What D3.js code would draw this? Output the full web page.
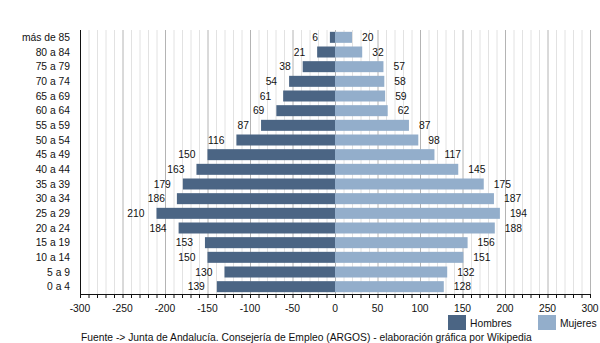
<!DOCTYPE html>
<html>
<head>
<meta charset="utf-8">
<script src="https://cdn.jsdelivr.net/npm/d3@7"></script>
<style>
  html, body { margin: 0; padding: 0; background: #fff; }
  svg { display: block; font-family: "Liberation Sans", Arial, sans-serif; }
</style>
</head>
<body>
<svg id="chart" width="600" height="343"></svg>
<script>
// Age groups, oldest first (top of the pyramid)
const ageGroups = ["más de 85", "80 a 84", "75 a 79", "70 a 74", "65 a 69", "60 a 64",
  "55 a 59", "50 a 54", "45 a 49", "40 a 44", "35 a 39", "30 a 34", "25 a 29",
  "20 a 24", "15 a 19", "10 a 14", "5 a 9", "0 a 4"];
const hombres = [6, 21, 38, 54, 61, 69, 87, 116, 150, 163, 179, 186, 210, 184, 153, 150, 130, 139];
const mujeres = [20, 32, 57, 58, 59, 62, 87, 98, 117, 145, 175, 187, 194, 188, 156, 151, 132, 128];
const xTicks = [-300, -250, -200, -150, -100, -50, 0, 50, 100, 150, 200, 250, 300];
const seriesNames = ["Hombres", "Mujeres"];
const sourceText = "Fuente -> Junta de Andalucía. Consejería de Empleo (ARGOS) - elaboración gráfica por Wikipedia";

const colorMen = "#4b6584";
const colorWomen = "#93aecb";
const fontSize = 10.3;

const svg = d3.select("#chart");
const plotL = 80, plotR = 590, plotT = 30, plotB = 294;

const x = d3.scaleLinear().domain([-300, 300]).range([plotL, plotR]);
const y = d3.scaleBand().domain(ageGroups).range([plotT, plotB]).paddingInner(0.25).paddingOuter(0.125);

// grid: minor every 10, major every 50
const minor = d3.range(-300, 301, 10);
svg.append("g").selectAll("line").data(minor.filter(v => v % 50 !== 0)).join("line")
  .attr("x1", d => x(d) + 0.5).attr("x2", d => x(d) + 0.5)
  .attr("y1", plotT).attr("y2", plotB)
  .attr("stroke", "#e2e2e2").attr("stroke-width", 1);
svg.append("g").selectAll("line").data(xTicks.filter(v => v !== -300)).join("line")
  .attr("x1", d => x(d) + 0.5).attr("x2", d => x(d) + 0.5)
  .attr("y1", plotT).attr("y2", plotB)
  .attr("stroke", "#b4b4b4").attr("stroke-width", 1);

// bars
svg.append("g").selectAll("rect").data(ageGroups).join("rect")
  .attr("x", (d, i) => x(-hombres[i]))
  .attr("width", (d, i) => x(0) - x(-hombres[i]))
  .attr("y", d => y(d)).attr("height", y.bandwidth())
  .attr("fill", colorMen);
svg.append("g").selectAll("rect").data(ageGroups).join("rect")
  .attr("x", x(0))
  .attr("width", (d, i) => x(mujeres[i]) - x(0))
  .attr("y", d => y(d)).attr("height", y.bandwidth())
  .attr("fill", colorWomen);

// value labels
svg.append("g").selectAll("text").data(ageGroups).join("text")
  .attr("x", (d, i) => x(-hombres[i]) - 12)
  .attr("y", d => y(d) + y.bandwidth() / 2)
  .attr("dy", "0.35em").attr("text-anchor", "end")
  .attr("font-size", fontSize).attr("fill", "#111")
  .text((d, i) => hombres[i]);
svg.append("g").selectAll("text").data(ageGroups).join("text")
  .attr("x", (d, i) => x(mujeres[i]) + 10)
  .attr("y", d => y(d) + y.bandwidth() / 2)
  .attr("dy", "0.35em").attr("text-anchor", "start")
  .attr("font-size", fontSize).attr("fill", "#111")
  .text((d, i) => mujeres[i]);

// category labels
svg.append("g").selectAll("text").data(ageGroups).join("text")
  .attr("x", plotL - 10)
  .attr("y", d => y(d) + y.bandwidth() / 2)
  .attr("dy", "0.35em").attr("text-anchor", "end")
  .attr("font-size", fontSize).attr("fill", "#111")
  .text(d => d);

// x axis with minor ticks
const axis = svg.append("g").attr("transform", `translate(0,${plotB})`);
axis.call(d3.axisBottom(x).tickValues(minor).tickSize(4).tickFormat(""))
  .call(g => g.select(".domain").remove());
axis.selectAll("line").attr("stroke", "#111");
axis.append("line").attr("x1", plotL).attr("x2", plotR + 0.5).attr("y1", 0.5).attr("y2", 0.5)
  .attr("stroke", "#111");
axis.append("g").selectAll("text").data(xTicks).join("text")
  .attr("x", d => x(d)).attr("y", 18)
  .attr("text-anchor", "middle").attr("font-size", fontSize).attr("fill", "#111")
  .text(d => d);

// left axis line
svg.append("line").attr("x1", plotL + 0.5).attr("x2", plotL + 0.5)
  .attr("y1", plotT).attr("y2", plotB).attr("stroke", "#111");

// legend
const legend = svg.append("g");
const legendItems = [
  { name: seriesNames[0], color: colorMen, x: 448 },
  { name: seriesNames[1], color: colorWomen, x: 538 }
];
legendItems.forEach(it => {
  legend.append("rect").attr("x", it.x).attr("y", 315).attr("width", 18).attr("height", 15).attr("fill", it.color);
  legend.append("text").attr("x", it.x + 22).attr("y", 323).attr("dy", "0.35em")
    .attr("font-size", fontSize).attr("fill", "#111").text(it.name);
});

// source note
svg.append("text").attr("x", 81).attr("y", 341).attr("font-size", fontSize).attr("fill", "#111")
  .text(sourceText);
</script>
</body>
</html>
